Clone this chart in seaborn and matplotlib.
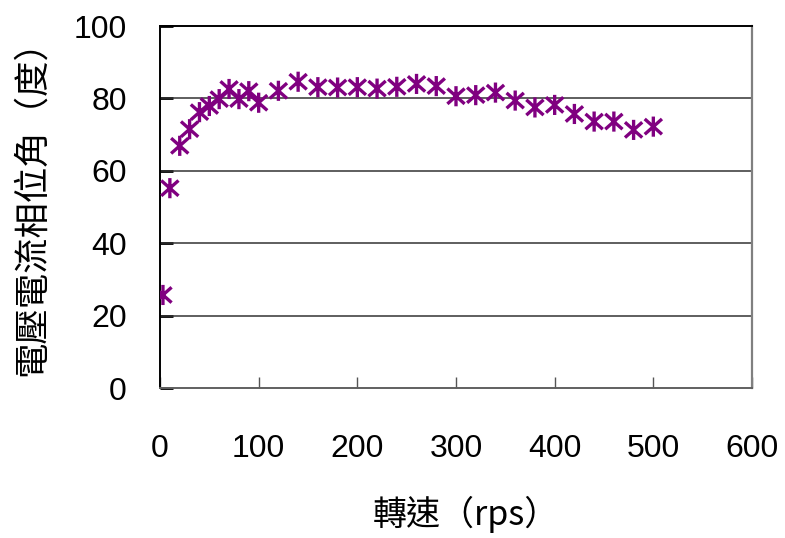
import matplotlib
matplotlib.use("Agg")
import matplotlib.pyplot as plt
from matplotlib.path import Path
import seaborn as sns
import pandas as pd

# Measured phase angle between voltage and current versus rotational speed
speed_rps = [3, 10, 20, 30, 40, 50, 60, 70, 80, 90, 100,
             120, 140, 160, 180, 200, 220, 240, 260, 280, 300,
             320, 340, 360, 380, 400, 420, 440, 460, 480, 500]
phase_deg = [25.7, 55.2, 66.9, 71.5, 76.2, 77.9, 79.8, 82.6, 79.8, 82.0, 78.8,
             82.1, 84.6, 83.1, 83.0, 83.1, 82.7, 83.2, 84.0, 83.4, 80.6,
             80.9, 81.6, 79.4, 77.5, 78.2, 75.7, 73.6, 73.6, 71.3, 72.2]

x_ticks = [0, 100, 200, 300, 400, 500, 600]
y_ticks = [0, 20, 40, 60, 80, 100]
x_label = "轉速（rps）"
y_label = "電壓電流相位角（度）"

df = pd.DataFrame({"speed": speed_rps, "phase": phase_deg})

sns.set_theme(style="white")
plt.rcParams["font.family"] = ["Liberation Sans", "Noto Sans CJK TC", "DejaVu Sans"]
plt.rcParams.update({"text.color": "black", "axes.labelcolor": "black",
                     "xtick.labelcolor": "black", "ytick.labelcolor": "black"})

# Asterisk marker: an X crossed by a vertical bar
star = Path(
    [(-0.9, -0.8), (0.9, 0.8), (-0.9, 0.8), (0.9, -0.8), (0, -1.05), (0, 1.05)],
    [Path.MOVETO, Path.LINETO, Path.MOVETO, Path.LINETO, Path.MOVETO, Path.LINETO],
)

fig = plt.figure(figsize=(7.85, 5.38), dpi=100)
ax = fig.add_axes([160 / 785, 1 - 388 / 538, (752 - 160) / 785, (388 - 26) / 538])

for yv in y_ticks[1:-1]:
    ax.axhline(yv, color="#333333", lw=1.1, zorder=1)

sns.scatterplot(data=df, x="speed", y="phase", marker=star, s=210,
                color="#800080", edgecolor="#800080", facecolor="none",
                linewidth=2.4, ax=ax, zorder=3, legend=False)

ax.set_xlim(0, 600)
ax.set_ylim(0, 100)
ax.set_xticks(x_ticks)
ax.set_yticks(y_ticks)
ax.set_xticklabels([str(v) for v in x_ticks], fontsize=23, family=["Liberation Sans"])
ax.set_yticklabels([str(v) for v in y_ticks], fontsize=23, family=["Liberation Sans"])
ax.tick_params(axis="x", direction="in", length=8, width=1, color="#555555", pad=33, bottom=True)
ax.tick_params(axis="y", direction="in", length=9, width=2, color="black", pad=24, left=True)

ax.set_xlabel(x_label, fontsize=24.5, family=["Noto Sans CJK TC", "DejaVu Sans"])
ax.xaxis.set_label_coords(0.5 + 10 / 592, -(496 - 388) / 362)
ax.set_ylabel(y_label, fontsize=25.5, family=["Noto Sans CJK TC", "DejaVu Sans"])
ax.yaxis.set_label_coords(-(160 - 50) / 592, 0.5 + 8 / 362)

for side in ["left", "top"]:
    ax.spines[side].set_color("black")
    ax.spines[side].set_linewidth(1.4)
ax.spines["right"].set_color("#808080")
ax.spines["right"].set_linewidth(1.6)
ax.spines["bottom"].set_color("#606060")
ax.spines["bottom"].set_linewidth(1.4)

fig.savefig("out.png", dpi=100, facecolor="white")
